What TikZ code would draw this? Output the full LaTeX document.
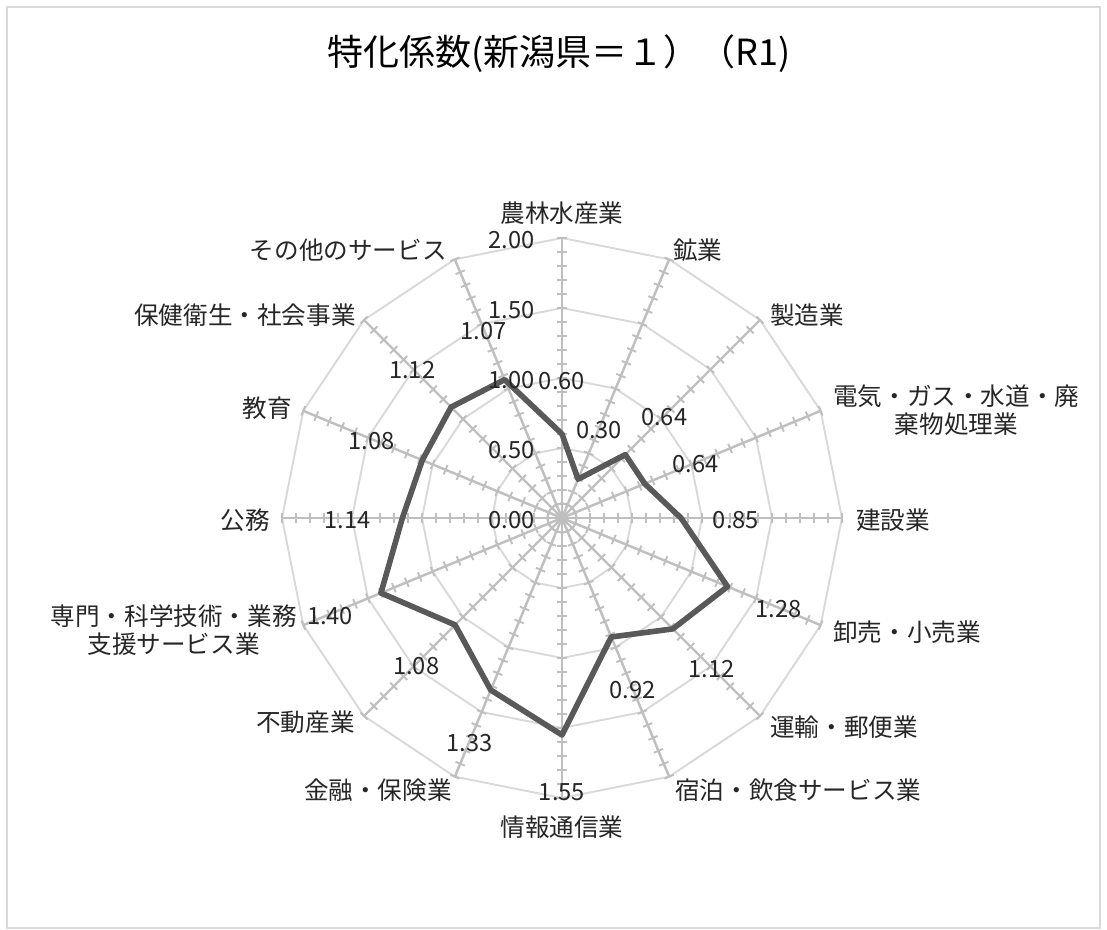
\documentclass[tikz,border=0pt]{standalone}
\usepackage{fontspec}
\setmainfont{Noto Sans CJK JP}
\usetikzlibrary{positioning}
\definecolor{gridgray}{HTML}{D9D9D9}
\definecolor{axisgray}{HTML}{BFBFBF}
\definecolor{linegray}{HTML}{595959}
\definecolor{textgray}{HTML}{262626}
\tikzset{
  catlabel/.style={font=\fontsize{14}{16}\selectfont, text=textgray, align=center, inner sep=0pt},
  vallabel/.style={font=\fontsize{13.5}{15}\selectfont, text=textgray, inner sep=0pt},
  ring/.style={gridgray, line width=1.1pt},
  spoke/.style={axisgray, line width=1.4pt},
}

\begin{document}
\begin{tikzpicture}[x=0.02cm, y=0.02cm]
  \useasboundingbox (-562,-412) rectangle (545,518);
  \draw[gridgray, line width=1.1pt] (-555,-410) rectangle (538,511);
  \node[font=\fontsize{20.5}{24}\selectfont, text=black] (title) at (-3,464) {特化係数(新潟県＝１）（R1)};

  % rings
  \foreach \r in {70,140,210,280}
    \draw[ring] (90:\r) \foreach \i in {1,...,15} { -- (90-22.5*\i:\r) } -- cycle;

  % axes with ticks
  \foreach \i in {0,...,15} {
    \begin{scope}[rotate=90-22.5*\i]
      \draw[spoke] (0,0) -- (280,0);
      \foreach \k in {1,...,20}
        \draw[spoke, line width=1.1pt] (14*\k,-5) -- (14*\k,5);
    \end{scope}
  }

  % data
  \foreach \v [count=\i from 0] in {0.60,0.30,0.64,0.64,0.85,1.28,1.12,0.92,1.55,1.33,1.08,1.40,1.14,1.08,1.12,1.07}
    \coordinate (p\i) at (90-22.5*\i:\v*140);
  \draw[linegray, line width=3.2pt, line join=round]
    (p0) \foreach \i in {1,...,15} { -- (p\i) } -- cycle;
  \foreach \v [count=\i from 0] in {0.60,0.30,0.64,0.64,0.85,1.28,1.12,0.92,1.55,1.33,1.08,1.40,1.14,1.08,1.12,1.07}
    \node[vallabel, yshift=-1pt] (d\i) at (90-22.5*\i:\v*140+55) {\v};

  % scale
  \foreach \v/\r in {0.00/0,0.50/70,1.00/140,1.50/210,2.00/280}
    \node[vallabel, anchor=east, yshift=-1pt] (ax\r) at (-27,\r) {\v};

  % categories
  \node[catlabel] (nourin) at (0,305) {農林水産業};
  \node[catlabel, anchor=west] (kogyo) at (111,268) {鉱業};
  \node[catlabel, anchor=west] (seizo) at (208,203) {製造業};
  \node[catlabel, anchor=west] (denki) at (271,108) {電気・ガス・水道・廃\\棄物処理業};
  \node[catlabel, anchor=west] (kensetsu) at (294,-2) {建設業};
  \node[catlabel, anchor=west] (oroshi) at (271,-114) {卸売・小売業};
  \node[catlabel, anchor=west] (unyu) at (208,-209) {運輸・郵便業};
  \node[catlabel, anchor=west] (shukuhaku) at (113,-272) {宿泊・飲食サービス業};
  \node[catlabel] (joho) at (0,-309) {情報通信業};
  \node[catlabel, anchor=east] (kinyu) at (-110,-272) {金融・保険業};
  \node[catlabel, anchor=east] (fudosan) at (-207,-204) {不動産業};
  \node[catlabel, anchor=east] (senmon) at (-265,-112) {専門・科学技術・業務\\支援サービス業};
  \node[catlabel, anchor=east] (koumu) at (-292,-2) {公務};
  \node[catlabel, anchor=east] (kyoiku) at (-270,110) {教育};
  \node[catlabel, anchor=east] (hoken) at (-206,203) {保健衛生・社会事業};
  \node[catlabel, anchor=east] (sonota) at (-115,268) {その他のサービス};
\end{tikzpicture}
\end{document}
